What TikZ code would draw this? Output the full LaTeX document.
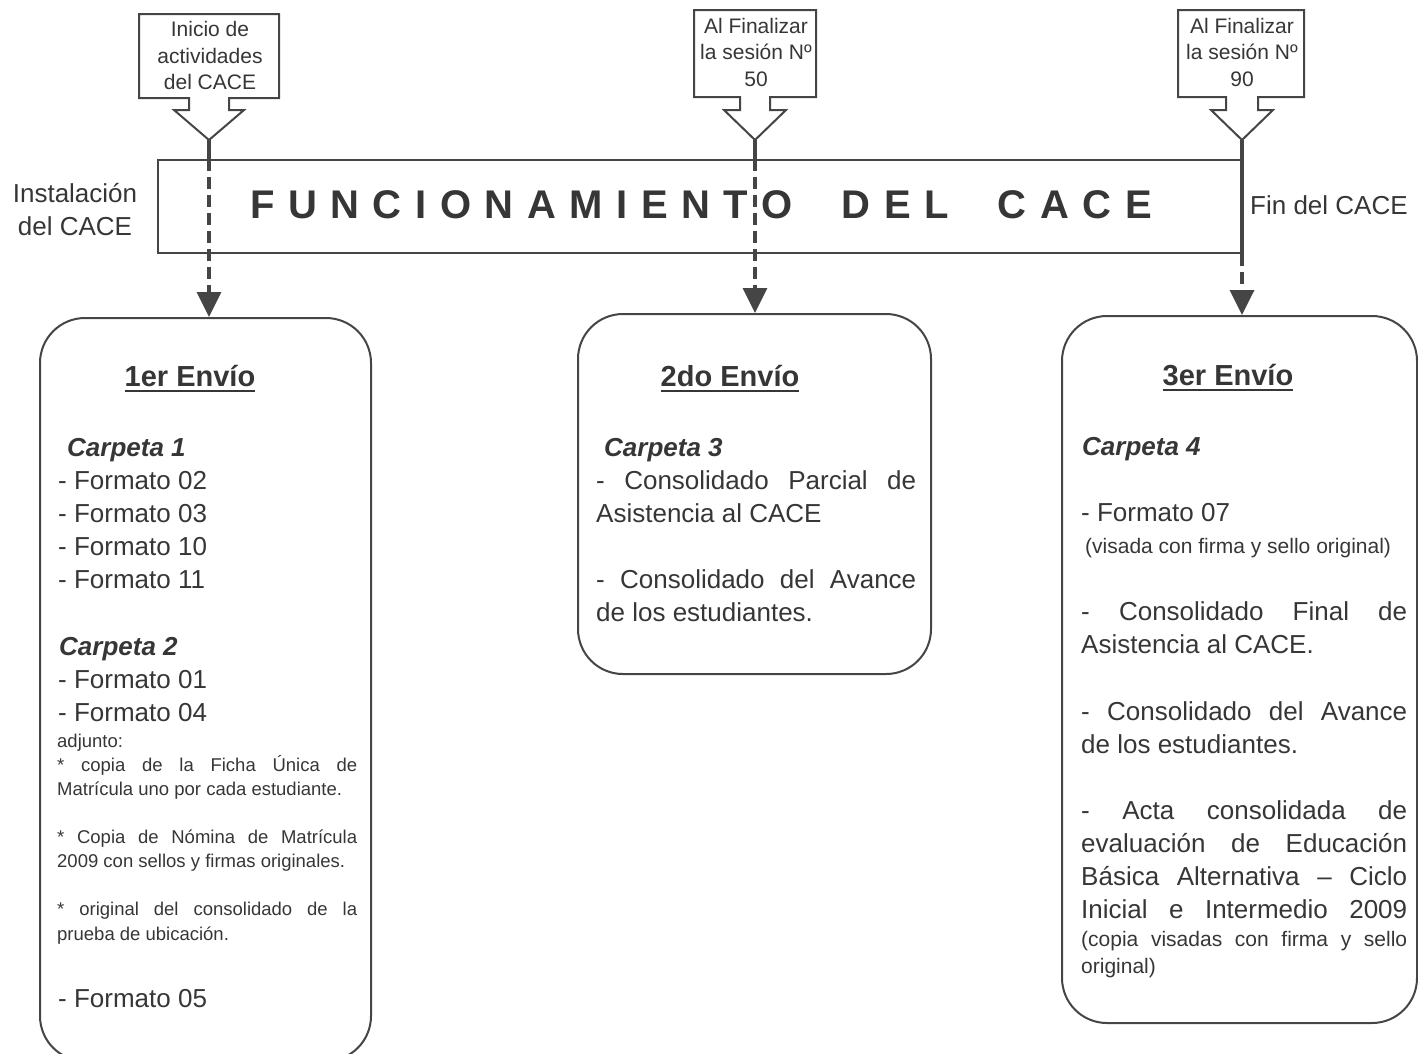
\documentclass[tikz,border=0pt]{standalone}
\usepackage{fontspec}
\setmainfont{Liberation Sans}
\usetikzlibrary{arrows.meta}
\definecolor{ink}{HTML}{363636}
\definecolor{edge}{HTML}{454545}
\newcommand\bodyfont{\fontsize{26}{33}\selectfont}
\newcommand\smallfnt{\fontsize{18.5}{24}\selectfont}
\newcommand\smallbfnt{\fontsize{21}{26}\selectfont}
\tikzset{
  txt/.style={anchor=base west, inner sep=0pt, text=ink, font=\bodyfont},
  smalltxt/.style={txt, font=\smallfnt},
  smallbtxt/.style={txt, font=\smallbfnt},
  headtxt/.style={anchor=base, inner sep=0pt, text=ink, font=\fontsize{29}{33}\selectfont\bfseries},
  carp/.style={txt, font=\bodyfont\bfseries\itshape},
  envbox/.style={draw=edge, line width=2pt, rounded corners=45pt, inner sep=0pt},
  calloutshape/.style={draw=edge, line width=2pt, fill=white, line join=miter},
  callouttext/.style={align=center, text=ink, font=\fontsize{21}{26.5}\selectfont, inner sep=0pt},
  dashline/.style={draw=edge, line width=3.5pt, dash pattern=on 12pt off 6pt},
  solidline/.style={draw=edge, line width=3.5pt},
  arrowtip/.style={-{Triangle[width=24pt,length=25pt]}},
  uline/.style={draw=ink, line width=2pt},
  sidetxt/.style={text=ink, font=\bodyfont, inner sep=0pt, align=center},
}
\newcommand\jl[5][txt]{\node[#1] (#2) at (#3) {\makebox[#4pt][s]{#5}};}
\begin{document}
\begin{tikzpicture}[x=1pt,y=-1pt]
\useasboundingbox (0,0) rectangle (1418,1053);

% main bar
\node[draw=edge, line width=2.5pt, minimum width=1084pt, minimum height=93pt, inner sep=0pt] (bar) at (700,206.5) {};
\node[text=ink, inner sep=0pt, font=\fontsize{40}{44}\selectfont\bfseries] (title) at (701,205)
  {\makebox[902pt]{F\hfill U\hfill N\hfill C\hfill I\hfill O\hfill N\hfill A\hfill M\hfill I\hfill E\hfill N\hfill T\hfill O\hspace{\stretch{3.6}}D\hfill E\hfill L\hspace{\stretch{3.6}}C\hfill A\hfill C\hfill E}};
\node[sidetxt] (inst) at (75,209.5) {Instalación\\del CACE};
\node[sidetxt, anchor=west] (fin) at (1250,205) {Fin del CACE};

% envio boxes
\node[envbox, minimum width=331pt, minimum height=743pt] (b1) at (205.5,689.5) {};
\node[envbox, minimum width=353pt, minimum height=360pt] (b2) at (754.5,494) {};
\node[envbox, minimum width=355pt, minimum height=707pt] (b3) at (1239.5,669.5) {};

% callout tips
\coordinate (t1) at (209,140);
\coordinate (t2) at (755,140);
\coordinate (t3) at (1242,140);

% connectors
\draw[solidline] (t1) -- (t1 |- bar.north);
\draw[dashline, arrowtip] (t1 |- bar.north) -- (t1 |- b1.north);
\draw[solidline] (t2) -- (t2 |- bar.north);
\draw[dashline, arrowtip] (t2 |- bar.north) -- (t2 |- b2.north);
\draw[solidline] (t3) -- (t3 |- bar.south);
\draw[dashline, arrowtip] (t3 |- bar.south) -- (t3 |- b3.north);

% callouts
\draw[calloutshape] (139,14) -- (279,14) -- (279,98) -- (229,98) -- (229,110) -- (244,110) -- (t1) -- (174,110) -- (189,110) -- (189,98) -- (139,98) -- cycle;
\node[callouttext] (k1) at (210,55.5) {Inicio de\\actividades\\del CACE};
\draw[calloutshape] (694,10) -- (816,10) -- (816,97) -- (770,97) -- (770,110) -- (786,110) -- (t2) -- (724,110) -- (740,110) -- (740,97) -- (694,97) -- cycle;
\node[callouttext] (k2) at (756,52) {Al Finalizar\\la sesión Nº\\50};
\draw[calloutshape] (1178,10) -- (1304,10) -- (1304,97) -- (1258,97) -- (1258,110) -- (1273,110) -- (t3) -- (1211,110) -- (1226,110) -- (1226,97) -- (1178,97) -- cycle;
\node[callouttext] (k3) at (1242,52) {Al Finalizar\\la sesión Nº\\90};

% box 1
\node[headtxt] (h1) at (190,386) {1er Envío};
\draw[uline] ([yshift=-5pt]h1.base west) -- ([yshift=-5pt]h1.base east);
\node[carp] (c1) at (67,456) {Carpeta 1};
\node[txt] (f02) at (58,489) {- Formato 02};
\node[txt] (f03) at (58,522) {- Formato 03};
\node[txt] (f10) at (58,555) {- Formato 10};
\node[txt] (f11) at (58,588) {- Formato 11};
\node[carp] (c2) at (59,655) {Carpeta 2};
\node[txt] (f01) at (58,688) {- Formato 01};
\node[txt] (f04) at (58,721) {- Formato 04};
\node[smalltxt] (adj) at (57,747) {adjunto:};
\jl[smalltxt]{a1}{57,771}{300}{* copia de la Ficha Única de}
\node[smalltxt] (a2) at (57,795) {Matrícula uno por cada estudiante.};
\jl[smalltxt]{a3}{57,843}{300}{* Copia de Nómina de Matrícula}
\node[smalltxt] (a4) at (57,867) {2009 con sellos y firmas originales.};
\jl[smalltxt]{a5}{57,915}{300}{* original del consolidado de la}
\node[smalltxt] (a6) at (57,940) {prueba de ubicación.};
\node[txt] (f05) at (58,1007) {- Formato 05};

% box 2
\node[headtxt] (h2) at (730,386) {2do Envío};
\draw[uline] ([yshift=-5pt]h2.base west) -- ([yshift=-5pt]h2.base east);
\node[carp] (c3) at (604,456) {Carpeta 3};
\jl{p1}{596,489}{320}{- Consolidado Parcial de}
\node[txt] (p2) at (596,522) {Asistencia al CACE};
\jl{p3}{596,588}{320}{- Consolidado del Avance}
\node[txt] (p4) at (596,621) {de los estudiantes.};

% box 3
\node[headtxt] (h3) at (1228,385) {3er Envío};
\draw[uline] ([yshift=-5pt]h3.base west) -- ([yshift=-5pt]h3.base east);
\node[carp] (c4) at (1082,455) {Carpeta 4};
\node[txt] (f07) at (1081,521) {- Formato 07};
\node[smallbtxt] (vis) at (1085,553) {(visada con firma y sello original)};
\jl{q1}{1081,620}{326}{- Consolidado Final de}
\node[txt] (q2) at (1081,653) {Asistencia al CACE.};
\jl{q3}{1081,720}{326}{- Consolidado del Avance}
\node[txt] (q4) at (1081,753) {de los estudiantes.};
\jl{q5}{1081,819}{326}{- Acta consolidada de}
\jl{q6}{1081,852}{326}{evaluación de Educación}
\jl{q7}{1081,885}{326}{Básica Alternativa – Ciclo}
\jl{q8}{1081,918}{326}{Inicial e Intermedio 2009}
\jl[smallbtxt]{q9}{1081,946}{326}{(copia visadas con firma y sello}
\node[smallbtxt] (q10) at (1081,973) {original)};
\end{tikzpicture}
\end{document}
